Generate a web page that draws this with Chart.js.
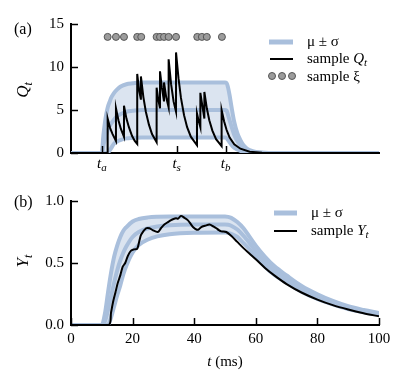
<!DOCTYPE html>
<html>
<head>
<meta charset="utf-8">
<script src="https://cdn.jsdelivr.net/npm/chart.js@4.4.0/dist/chart.umd.min.js"></script>
<style>
    body { margin: 0; background: #fff; }
    #wrap { position: relative; width: 408px; height: 388px; }
    canvas { position: absolute; left: 0; }
    #chartA { top: 0; }
    #chartB { top: 185px; }
</style>
</head>
<body>
<div id="wrap">
    <canvas id="chartA" width="408" height="190"></canvas>
    <canvas id="chartB" width="408" height="203"></canvas>
</div>
<script>
// Painel (a): banda mu +- sigma de Q_t
const tA  = [0, 10, 10.5, 11, 11.5, 12, 12.5, 13, 14, 15, 16, 18, 20, 23, 26, 50, 50.5, 51, 51.5, 52, 53, 54, 55, 56, 57, 58, 60, 63, 66, 100];
const upA = [0, 0, 2.0, 3.5, 4.6, 5.4, 5.9, 6.4, 7.0, 7.4, 7.7, 8.0, 8.1, 8.2, 8.2, 8.2, 8.15, 7.6, 6.7, 5.6, 3.6, 2.3, 1.5, 0.9, 0.55, 0.35, 0.12, 0.02, 0, 0];
const muA = [0, 0, 0.9, 1.6, 2.2, 2.7, 3.1, 3.4, 3.9, 4.3, 4.5, 4.8, 4.9, 5.0, 5.0, 5.0, 4.95, 4.4, 3.8, 3.2, 2.1, 1.4, 0.9, 0.55, 0.35, 0.22, 0.08, 0.01, 0, 0];
const loA = [0, 0, 0, 0, 0, 0, 0.3, 0.55, 1.1, 1.35, 1.5, 1.7, 1.75, 1.8, 1.8, 1.8, 1.75, 1.5, 1.25, 1.0, 0.6, 0.4, 0.25, 0.15, 0.1, 0.06, 0.02, 0, 0, 0];

// amostra Q_t (saltos e decaimentos)
const qT = [0, 11.9, 11.9, 12.7, 13.5, 14.6, 14.6, 15.4, 16.2, 17.2, 17.2, 18.0, 18.8, 19.8, 20.7, 21.5, 21.5, 22.1, 22.7, 22.7,
    23.5, 24.3, 25.3, 26.3, 27.8, 27.8, 28.3, 28.9, 28.9, 29.5, 30.2, 30.2, 30.9, 31.7, 31.7, 32.5, 33.3, 34.1, 34.1,
    34.9, 35.7, 36.7, 37.7, 38.9, 40.9, 40.9, 41.4, 42.0, 42.0, 42.6, 43.3, 43.3, 44.1, 44.9, 45.9, 47.1, 48.9, 48.9,
    49.7, 50.5, 51.5, 53, 55, 58, 62, 66, 100];
const qV = [0, 0, 4.0, 2.9, 2.2, 1.4, 5.2, 3.8, 2.8, 1.9, 5.5, 4.0, 3.0, 2.0, 1.4, 1.05, 9.2, 7.3, 6.2, 8.9,
    6.5, 4.8, 3.3, 2.2, 1.25, 7.6, 6.3, 5.2, 9.5, 7.6, 6.0, 8.2, 6.5, 5.3, 10.9, 8.0, 6.0, 4.8, 11.7,
    8.7, 6.4, 4.4, 3.0, 1.9, 0.9, 4.6, 3.8, 3.0, 7.0, 5.6, 4.0, 7.1, 5.2, 3.8, 2.6, 1.6, 0.8, 5.0,
    3.7, 2.7, 1.8, 1.0, 0.5, 0.15, 0.03, 0, 0];

// amostra xi
const xiT = [11.9, 14.6, 17.2, 21.5, 22.8, 27.8, 28.9, 30.2, 31.7, 34.1, 41.0, 42.5, 44.1, 49.0];
const xiLevel = 13.5;

const tickTimesA = [10, 34.3, 50.2];
const tickNamesA = ['a', 's', 'b'];

// Painel (b): Y_t
const tB  = [0, 10, 11, 12, 13, 14, 15, 16, 17, 18, 20, 22, 25, 28, 32, 40, 50, 51, 52, 54, 56, 58, 60, 63, 66, 70, 75, 80, 85, 90, 95, 100];
const upB = [0, 0, 0.09, 0.26, 0.42, 0.55, 0.64, 0.71, 0.76, 0.79, 0.835, 0.855, 0.868, 0.873, 0.875, 0.875, 0.875, 0.872, 0.864, 0.83, 0.78, 0.71, 0.64, 0.55, 0.475, 0.40, 0.313, 0.248, 0.194, 0.151, 0.121, 0.097];
const muB = [0, 0, 0.03, 0.12, 0.23, 0.34, 0.44, 0.52, 0.585, 0.635, 0.71, 0.75, 0.78, 0.795, 0.805, 0.81, 0.81, 0.808, 0.80, 0.77, 0.72, 0.66, 0.595, 0.51, 0.44, 0.37, 0.29, 0.23, 0.18, 0.14, 0.112, 0.09];
const loB = [0, 0, 0, 0, 0.06, 0.15, 0.24, 0.32, 0.41, 0.48, 0.585, 0.645, 0.69, 0.715, 0.732, 0.743, 0.745, 0.743, 0.736, 0.71, 0.66, 0.61, 0.55, 0.47, 0.405, 0.34, 0.267, 0.21, 0.166, 0.129, 0.103, 0.083];

const yT = [0, 12.2, 13.0, 13.6, 14.4, 15.2, 16.0, 16.8, 17.6, 18.5, 19.5, 20.5, 21.5, 22.2, 22.8, 24.4, 25.5, 26.5, 28.2,
    29.2, 30.3, 31.5, 32.5, 33.3, 34.1, 34.8, 35.7, 36.8, 37.9, 39.0, 39.6, 40.7, 41.5, 42.3, 43.5, 45.0, 46.2, 47.2,
    48.0, 48.8, 50.4, 52, 54, 56, 58, 60, 63, 66, 70, 75, 80, 85, 90, 95, 100];
const yV = [0, 0, 0.1, 0.18, 0.26, 0.34, 0.40, 0.47, 0.5, 0.56, 0.60, 0.61, 0.615, 0.68, 0.73, 0.78, 0.78, 0.765, 0.75,
    0.78, 0.81, 0.83, 0.846, 0.855, 0.86, 0.858, 0.88, 0.865, 0.846, 0.81, 0.79, 0.77, 0.772, 0.79, 0.80, 0.81, 0.795, 0.78,
    0.765, 0.755, 0.75, 0.72, 0.67, 0.62, 0.575, 0.53, 0.46, 0.4, 0.33, 0.26, 0.205, 0.16, 0.125, 0.095, 0.07];

const BAND_LINE = '#a9bfdc';
const BAND_FILL = '#dbe4f0';
const SERIF = '"Liberation Serif", "DejaVu Serif", serif';

function pontos(t, v) {
    return t.map((x, i) => ({ x: x, y: v[i] }));
}

function banda(t, up, mu, lo) {
    const base = { borderColor: BAND_LINE, borderWidth: 4, pointRadius: 0, cubicInterpolationMode: 'monotone' };
    return [
        { ...base, data: pontos(t, up), fill: '+2', backgroundColor: BAND_FILL, order: 3 },
        { ...base, data: pontos(t, mu), fill: false, order: 2 },
        { ...base, data: pontos(t, lo), fill: false, order: 2 }
    ];
}

// texto italico com subscrito
function italSub(ctx, base, sub, x, y, size, align) {
    const small = Math.round(size * 0.7);
    ctx.font = 'italic ' + size + 'px ' + SERIF;
    const w1 = ctx.measureText(base).width;
    ctx.font = 'italic ' + small + 'px ' + SERIF;
    const w2 = ctx.measureText(sub).width;
    let x0 = x;
    if (align === 'center') x0 = x - (w1 + w2) / 2;
    ctx.textAlign = 'left';
    ctx.font = 'italic ' + size + 'px ' + SERIF;
    ctx.fillText(base, x0, y);
    ctx.font = 'italic ' + small + 'px ' + SERIF;
    ctx.fillText(sub, x0 + w1, y + size * 0.3);
    return w1 + w2;
}

function texto(ctx, s, x, y, size, style) {
    ctx.font = (style || '') + ' ' + size + 'px ' + SERIF;
    ctx.fillText(s, x, y);
    return ctx.measureText(s).width;
}

// ticks para dentro do grafico
const ticksDentro = {
    id: 'ticksDentro',
    afterDraw(chart) {
        const { ctx, chartArea: a, scales } = chart;
        ctx.save();
        ctx.strokeStyle = '#000';
        ctx.lineWidth = 1.5;
        scales.x.ticks.forEach(t => {
            const p = Math.round(scales.x.getPixelForValue(t.value)) + 0.5;
            ctx.beginPath(); ctx.moveTo(p, a.bottom); ctx.lineTo(p, a.bottom - 7); ctx.stroke();
        });
        scales.y.ticks.forEach(t => {
            const p = Math.round(scales.y.getPixelForValue(t.value)) + 0.5;
            ctx.beginPath(); ctx.moveTo(a.left, p); ctx.lineTo(a.left + 7, p); ctx.stroke();
        });
        ctx.restore();
    }
};

function eixo(min, max, extra) {
    return Object.assign({
        type: 'linear', min: min, max: max,
        grid: { display: false, drawTicks: false },
        border: { display: true, color: '#000', width: 2 },
        ticks: { color: '#000', font: { family: SERIF, size: 14 } }
    }, extra);
}

const textoA = {
    id: 'textoA',
    afterDraw(chart) {
        const ctx = chart.ctx;
        const sx = chart.scales.x;
        ctx.save();
        ctx.fillStyle = '#000';
        ctx.textBaseline = 'middle';
        ctx.textAlign = 'left';
        texto(ctx, '(a)', 14, 30, 16);
        tickTimesA.forEach((v, i) => {
            italSub(ctx, 't', tickNamesA[i], sx.getPixelForValue(v), 164, 15, 'center');
        });
        ctx.save();
        ctx.translate(24, 90);
        ctx.rotate(-Math.PI / 2);
        italSub(ctx, 'Q', 't', 0, 0, 17, 'center');
        ctx.restore();

        // legenda
        ctx.lineCap = 'butt';
        ctx.strokeStyle = BAND_LINE; ctx.lineWidth = 5;
        ctx.beginPath(); ctx.moveTo(269, 42); ctx.lineTo(293, 42); ctx.stroke();
        ctx.fillStyle = '#000';
        texto(ctx, 'μ ± σ', 307, 42, 15);
        ctx.strokeStyle = '#000'; ctx.lineWidth = 2;
        ctx.beginPath(); ctx.moveTo(270, 59); ctx.lineTo(293, 59); ctx.stroke();
        const w = texto(ctx, 'sample ', 307, 59, 15);
        italSub(ctx, 'Q', 't', 307 + w, 59, 15);
        [272, 282, 292].forEach(x => {
            ctx.beginPath(); ctx.arc(x, 76, 3.5, 0, Math.PI * 2);
            ctx.fillStyle = '#9c9c9c'; ctx.fill();
            ctx.strokeStyle = '#555'; ctx.lineWidth = 1; ctx.stroke();
        });
        ctx.fillStyle = '#000';
        texto(ctx, 'sample ξ', 307, 77, 15);
        ctx.restore();
    }
};

const textoB = {
    id: 'textoB',
    afterDraw(chart) {
        const ctx = chart.ctx;
        ctx.save();
        ctx.fillStyle = '#000';
        ctx.textBaseline = 'middle';
        ctx.textAlign = 'left';
        texto(ctx, '(b)', 14, 18, 16);
        ctx.save();
        ctx.translate(24, 76);
        ctx.rotate(-Math.PI / 2);
        italSub(ctx, 'Y', 't', 0, 0, 17, 'center');
        ctx.restore();
        // titulo do eixo x
        ctx.font = 'italic 15px ' + SERIF;
        const wt = ctx.measureText('t').width;
        ctx.font = '15px ' + SERIF;
        const wr = ctx.measureText(' (ms)').width;
        const x0 = 225 - (wt + wr) / 2;
        texto(ctx, 't', x0, 177, 15, 'italic');
        texto(ctx, ' (ms)', x0 + wt, 177, 15);

        // legenda
        ctx.strokeStyle = BAND_LINE; ctx.lineWidth = 5;
        ctx.beginPath(); ctx.moveTo(274, 28); ctx.lineTo(297, 28); ctx.stroke();
        texto(ctx, 'μ ± σ', 311, 28, 15);
        ctx.strokeStyle = '#000'; ctx.lineWidth = 2;
        ctx.beginPath(); ctx.moveTo(274, 46); ctx.lineTo(297, 46); ctx.stroke();
        const w = texto(ctx, 'sample ', 311, 46, 15);
        italSub(ctx, 'Y', 't', 311 + w, 46, 15);
        ctx.restore();
    }
};

// Painel (a)
new Chart(document.getElementById('chartA'), {
    type: 'line',
    data: {
        datasets: [
            ...banda(tA, upA, muA, loA),
            { data: pontos(qT, qV), borderColor: '#000', borderWidth: 2, pointRadius: 0, tension: 0, fill: false, order: 0 },
            { data: xiT.map(x => ({ x: x, y: xiLevel })), showLine: false, pointRadius: 3.5,
              pointBackgroundColor: '#9c9c9c', pointBorderColor: '#555', pointBorderWidth: 1, order: 0 }
        ]
    },
    options: {
        responsive: false,
        animation: false,
        devicePixelRatio: 1,
        layout: { padding: { top: 24, right: 29, bottom: 0, left: 0 } },
        plugins: { legend: { display: false }, tooltip: { enabled: false } },
        scales: {
            x: eixo(0, 100, {
                ticks: { display: false },
                afterBuildTicks: s => { s.ticks = tickTimesA.map(v => ({ value: v })); },
                afterFit: s => { s.height = 37; }
            }),
            y: eixo(0, 15, {
                ticks: { color: '#000', font: { family: SERIF, size: 15 }, stepSize: 5, padding: 7 },
                afterFit: s => { s.width = 71; }
            })
        }
    },
    plugins: [ticksDentro, textoA]
});

// Painel (b)
new Chart(document.getElementById('chartB'), {
    type: 'line',
    data: {
        datasets: [
            ...banda(tB, upB, muB, loB),
            { data: pontos(yT, yV), borderColor: '#000', borderWidth: 2, pointRadius: 0, tension: 0.3, fill: false, order: 0 }
        ]
    },
    options: {
        responsive: false,
        animation: false,
        devicePixelRatio: 1,
        layout: { padding: { top: 12, right: 29, bottom: 0, left: 0 } },
        plugins: { legend: { display: false }, tooltip: { enabled: false } },
        scales: {
            x: eixo(0, 100, {
                ticks: { color: '#000', font: { family: SERIF, size: 15 }, stepSize: 20, padding: 5, maxRotation: 0 },
                afterFit: s => { s.height = 63; }
            }),
            y: eixo(0, 1, {
                ticks: { color: '#000', font: { family: SERIF, size: 15 }, stepSize: 0.5, padding: 7,
                         callback: v => v.toFixed(1) },
                afterFit: s => { s.width = 71; }
            })
        }
    },
    plugins: [ticksDentro, textoB]
});
</script>
</body>
</html>
